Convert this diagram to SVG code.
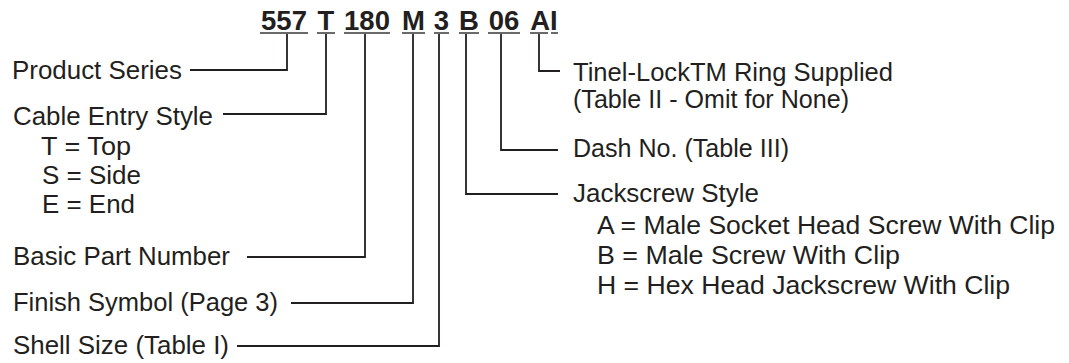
<svg xmlns="http://www.w3.org/2000/svg" width="1069" height="363" viewBox="0 0 1069 363">
<style>
.t{font-family:"Liberation Sans",Arial,Helvetica,sans-serif;font-size:25.5px;fill:#231f20}
.h{font-family:"Liberation Sans",Arial,Helvetica,sans-serif;font-size:27.5px;font-weight:bold;fill:#231f20;text-anchor:middle}
.u{stroke:#3a3a3a;stroke-width:1.6;fill:none}
.c{stroke:#231f20;stroke-width:1.8;fill:none}
</style>
<rect width="1069" height="363" fill="#ffffff"/>
<g id="part-number">
<text class="h" x="284" y="30">557</text>
<text class="h" x="326" y="30">T</text>
<text class="h" x="367" y="30">180</text>
<text class="h" x="413.5" y="30">M</text>
<text class="h" x="441.5" y="30">3</text>
<text class="h" x="469" y="30">B</text>
<text class="h" x="504" y="30">06</text>
<text class="h" x="544" y="30">AI</text>
<path class="u" d="M260,33H308M317,33H335M344,33H390M402,33H425M434,33H449M459,33H479M488,33H520M530,33H548M551,33H558"/>
</g>
<g id="connectors">
<path class="c" d="M287,34V70H190"/>
<path class="c" d="M326,34V114H223"/>
<path class="c" d="M365,34V257H247"/>
<path class="c" d="M413,34V303H291"/>
<path class="c" d="M439,34V346H237"/>
<path class="c" d="M466,34V194H558"/>
<path class="c" d="M501,34V150H558"/>
<path class="c" d="M539,34V71H560"/>
</g>
<g id="product-series"><text class="t" x="12" y="79" textLength="170" lengthAdjust="spacingAndGlyphs">Product Series</text></g>
<g id="cable-entry-style">
<text class="t" x="13" y="125" textLength="200" lengthAdjust="spacingAndGlyphs">Cable Entry Style</text>
<text class="t" x="41" y="155" textLength="90" lengthAdjust="spacingAndGlyphs">T = Top</text>
<text class="t" x="42" y="184" textLength="99" lengthAdjust="spacingAndGlyphs">S = Side</text>
<text class="t" x="42" y="213" textLength="93" lengthAdjust="spacingAndGlyphs">E = End</text>
</g>
<g id="basic-part-number"><text class="t" x="13" y="265" textLength="217" lengthAdjust="spacingAndGlyphs">Basic Part Number</text></g>
<g id="finish-symbol"><text class="t" x="13" y="311" textLength="265" lengthAdjust="spacingAndGlyphs">Finish Symbol (Page 3)</text></g>
<g id="shell-size"><text class="t" x="13" y="354" textLength="216" lengthAdjust="spacingAndGlyphs">Shell Size (Table I)</text></g>
<g id="tinel-lock">
<text class="t" x="573" y="81" textLength="320" lengthAdjust="spacingAndGlyphs">Tinel-LockTM Ring Supplied</text>
<text class="t" x="573" y="108" textLength="276" lengthAdjust="spacingAndGlyphs">(Table II - Omit for None)</text>
</g>
<g id="dash-no"><text class="t" x="573" y="157" textLength="216" lengthAdjust="spacingAndGlyphs">Dash No. (Table III)</text></g>
<g id="jackscrew-style">
<text class="t" x="573" y="202" textLength="186" lengthAdjust="spacingAndGlyphs">Jackscrew Style</text>
<text class="t" x="597" y="234" textLength="458" lengthAdjust="spacingAndGlyphs">A = Male Socket Head Screw With Clip</text>
<text class="t" x="597" y="264" textLength="303" lengthAdjust="spacingAndGlyphs">B = Male Screw With Clip</text>
<text class="t" x="597" y="294" textLength="413" lengthAdjust="spacingAndGlyphs">H = Hex Head Jackscrew With Clip</text>
</g>
</svg>
